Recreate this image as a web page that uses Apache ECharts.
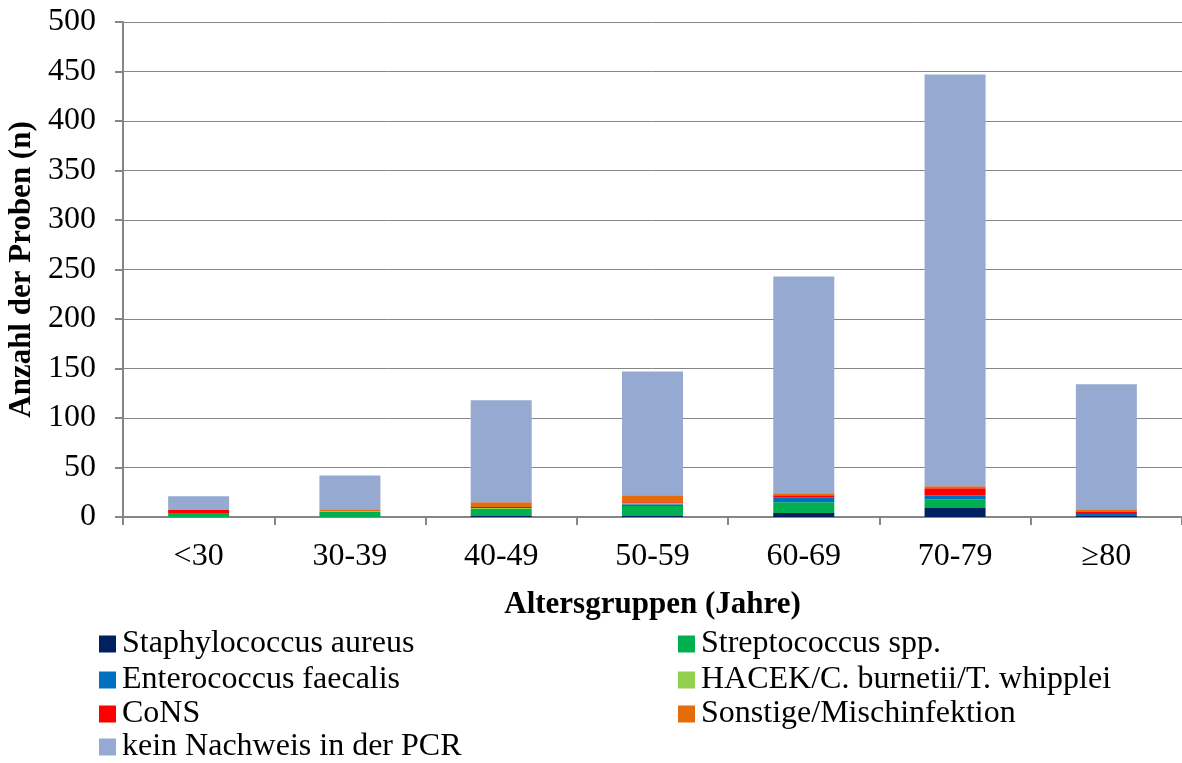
<!DOCTYPE html>
<html>
<head>
<meta charset="utf-8">
<script src="https://cdn.jsdelivr.net/npm/echarts@6/dist/echarts.min.js"></script>
<style>
  html, body { margin: 0; padding: 0; background: #fff; }
  #chart { width: 1182px; height: 763px; }
</style>
</head>
<body>
<div id="chart"></div>
<script>
// Altersgruppen und Probenanzahl je Erregergruppe
const categories = ['<30', '30-39', '40-49', '50-59', '60-69', '70-79', '≥80'];
const staphAureus   = [0, 0, 1, 1, 4, 9, 1];
const streptococcus = [4, 5, 7, 10, 11, 9, 0];
const enterococcus  = [0, 0, 0, 2, 5, 4, 2];
const hacek         = [0, 1, 1, 1, 0, 0, 0];
const cons          = [3, 0, 1, 1, 2, 7, 2];
const sonstige      = [0, 1, 5, 7, 2, 2, 2];
const keinNachweis  = [14, 35, 103, 125, 219, 416, 127];
const yTicks = [0, 50, 100, 150, 200, 250, 300, 350, 400, 450, 500];

const seriesDefs = [
  { name: 'Staphylococcus aureus', data: staphAureus, color: '#002060' },
  { name: 'Streptococcus spp.', data: streptococcus, color: '#00B050' },
  { name: 'Enterococcus faecalis', data: enterococcus, color: '#0070C0' },
  { name: 'HACEK/C. burnetii/T. whipplei', data: hacek, color: '#92D050' },
  { name: 'CoNS', data: cons, color: '#FF0000' },
  { name: 'Sonstige/Mischinfektion', data: sonstige, color: '#E46C0A' },
  { name: 'kein Nachweis in der PCR', data: keinNachweis, color: '#95A9D1' }
];

// Legend in two columns: [series name, column x, row centre y]
const legendLayout = [
  ['Staphylococcus aureus', 99, 644],
  ['Streptococcus spp.', 678, 644],
  ['Enterococcus faecalis', 99, 680],
  ['HACEK/C. burnetii/T. whipplei', 678, 680],
  ['CoNS', 99, 714],
  ['Sonstige/Mischinfektion', 678, 714],
  ['kein Nachweis in der PCR', 99, 747]
];

const font = '"Liberation Serif", "Times New Roman", serif';
const chart = echarts.init(document.getElementById('chart'));

const legends = legendLayout.map(([name, x, cy]) => ({
  data: [name],
  left: x,
  top: cy - 16,
  padding: 0,
  itemWidth: 17,
  itemHeight: 17,
  itemGap: 0,
  icon: 'rect',
  selectedMode: false,
  textStyle: { fontFamily: font, fontSize: 32, color: '#000', padding: [2, 0, 0, 1] }
}));

chart.setOption({
  animation: false,
  textStyle: { fontFamily: font },
  grid: { left: 123, right: 0, top: 22, bottom: 246, containLabel: false, outerBoundsMode: 'none' },
  legend: legends,
  xAxis: {
    type: 'category',
    data: categories,
    name: 'Altersgruppen (Jahre)',
    nameLocation: 'middle',
    nameGap: 72,
    nameTextStyle: { fontFamily: font, fontSize: 31, fontWeight: 'bold', color: '#000' },
    axisLine: { lineStyle: { color: '#868686', width: 2 } },
    axisTick: { show: true, length: 8, lineStyle: { color: '#868686', width: 2 } },
    axisLabel: { fontFamily: font, fontSize: 32, color: '#000', margin: 24 }
  },
  yAxis: {
    type: 'value',
    min: yTicks[0],
    max: yTicks[yTicks.length - 1],
    interval: 50,
    name: 'Anzahl der Proben (n)',
    nameLocation: 'middle',
    nameGap: 77,
    nameTextStyle: { fontFamily: font, fontSize: 31, fontWeight: 'bold', color: '#000' },
    axisLine: { show: true, lineStyle: { color: '#868686', width: 2 } },
    axisTick: { show: true, length: 8, lineStyle: { color: '#868686', width: 2 } },
    axisLabel: { fontFamily: font, fontSize: 32, color: '#000', margin: 27 },
    splitLine: { lineStyle: { color: '#868686', width: 1 } }
  },
  series: seriesDefs.map(s => ({
    name: s.name,
    type: 'bar',
    stack: 'total',
    data: s.data,
    barWidth: 61,
    itemStyle: { color: s.color }
  }))
});
</script>
</body>
</html>
